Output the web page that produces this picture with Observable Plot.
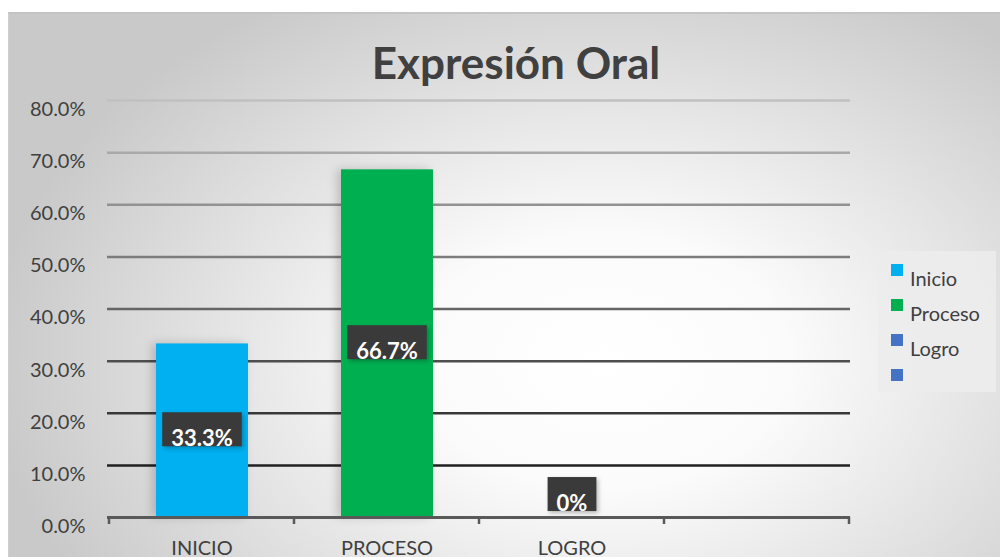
<!DOCTYPE html>
<html><head><meta charset="utf-8">
<script src="https://cdn.jsdelivr.net/npm/d3@7"></script>
<script src="https://cdn.jsdelivr.net/npm/@observablehq/plot@0.6"></script>
<style>
html,body{margin:0;padding:0;background:#fff;}
#wrap{position:relative;width:1000px;height:557px;overflow:hidden;font-family:Lato,"Open Sans",sans-serif;}
#bg{position:absolute;left:8px;top:12px;right:0;bottom:0;
 background:radial-gradient(ellipse 62% 78% at 60% 64%, #ffffff 0%, #fbfbfb 30%, #e2e2e2 65%, #c9c9c9 100%);
 border-top:2px solid #c4c4c4;border-left:1px solid #cfcfcf;}
#chart{position:absolute;left:0;top:0;}
#title{position:absolute;left:0;width:1032px;top:40px;text-align:center;font-weight:700;font-size:44px;color:#404040;line-height:1;}
#legend{position:absolute;left:878px;top:251px;width:118px;height:141px;background:rgba(236,236,236,0.9);}
.li{position:absolute;left:13px;height:20px;font-size:20px;color:#404040;}
.li span.sq{position:absolute;left:0;top:0;width:12px;height:12px;}
.li span.tx{position:absolute;left:19px;top:0px;white-space:nowrap;line-height:1;}
</style></head>
<body>
<div id="wrap"><div id="bg"></div><div id="chart"></div><div id="title"></div><div id="legend"></div></div>
<script>
const titleText = "Expresión Oral";
const categories = ["INICIO", "PROCESO", "LOGRO", ""];
const values = [0.333, 0.667, 0];
const valueLabels = ["33.3%", "66.7%", "0%"];
const barColors = ["#00B0F0", "#00B050", "#4472C4"];
const legendNames = ["Inicio", "Proceso", "Logro", ""];
const legendColors = ["#00B0F0", "#00B050", "#4472C4", "#4472C4"];
const yTicks = [0, 0.1, 0.2, 0.3, 0.4, 0.5, 0.6, 0.7, 0.8];

const bars = values.map((v, i) => ({cat: categories[i], value: v, label: valueLabels[i], color: barColors[i]}));
const nonzero = bars.filter(d => d.value > 0);
const zero = bars.filter(d => d.value === 0);

const chart = Plot.plot({
  width: 1000, height: 557,
  marginLeft: 107, marginRight: 150, marginTop: 100, marginBottom: 40,
  style: {background: "transparent", fontFamily: "Lato, 'Open Sans', sans-serif", color: "#404040", overflow: "visible"},
  x: {domain: categories, padding: 0, label: null},
  y: {domain: [0, 0.8], label: null},
  marks: [
    Plot.ruleY(yTicks.filter(t => t > 0), {y: d => d, stroke: d => d3.interpolateRgb("#0a0a0a", "#c0c0c0")(d / 0.8), strokeWidth: 2.5}),
    Plot.barY(bars, {x: "cat", y: "value", fill: "color", insetLeft: 47, insetRight: 46}),
    Plot.ruleY([0], {stroke: "#595959", strokeWidth: 3}),
    Plot.axisY({ticks: yTicks, tickFormat: d3.format(".1%"), tickSize: 0, tickPadding: 22, fontSize: 20, dy: 9, fill: "#404040", label: null}),
    Plot.axisX({tickSize: 0, tickPadding: 23, fontSize: 20, fill: "#404040", label: null}),
    Plot.text(nonzero, {x: "cat", y: d => d.value / 2, text: "label", fill: "white", fontWeight: "bold", fontSize: 22, dy: 8}),
    Plot.text(zero, {x: "cat", y: "value", text: "label", fill: "white", fontWeight: "bold", fontSize: 22, dy: -14})
  ]
});
document.getElementById("chart").appendChild(chart);
document.getElementById("title").textContent = titleText;

// bar shadows
d3.select(chart).selectAll('g[aria-label="bar"]').style("filter", "drop-shadow(-4px 0 5px rgba(0,0,0,0.18))");

// boundary ticks on x axis
const xs = chart.scale("x"), ys = chart.scale("y");
const y0 = ys.apply(0);
const bw = xs.bandwidth;
const tickG = d3.select(chart).append("g");
const edges = categories.map(c => xs.apply(c)).concat([xs.apply(categories[categories.length - 1]) + bw]);
edges.forEach(ex => {
  tickG.append("line").attr("x1", ex).attr("x2", ex).attr("y1", y0).attr("y2", y0 + 7)
    .attr("stroke", "#595959").attr("stroke-width", 2.5);
});

// data label boxes
const svgRect = chart.getBoundingClientRect();
const labelTexts = d3.select(chart).selectAll('g[aria-label="text"] text').nodes();
const boxG = d3.select(chart).insert("g", 'g[aria-label="text"]');
labelTexts.forEach(t => {
  const r = t.getBoundingClientRect();
  const cx = r.left - svgRect.left + r.width / 2;
  const cy = r.top - svgRect.top + r.height / 2;
  const w = r.width + 18, h = 34;
  boxG.append("rect").attr("x", cx - w / 2).attr("y", cy - 9 - h / 2 + 1).attr("width", w).attr("height", h)
    .attr("fill", "#3a3a3a").style("filter", "drop-shadow(2px 2px 2px rgba(0,0,0,0.25))");
});

// legend
const leg = d3.select("#legend");
legendNames.forEach((n, i) => {
  const item = leg.append("div").attr("class", "li").style("top", (13 + i * 35) + "px");
  item.append("span").attr("class", "sq").style("background", legendColors[i]);
  item.append("span").attr("class", "tx").style("top", "4px").text(n);
});
</script>
</body></html>
